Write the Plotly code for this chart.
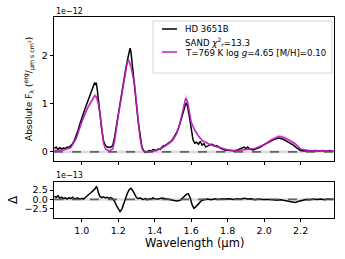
import plotly.graph_objects as go

# ---- data (flux in units of 1e-12, residual in units of 1e-13) ----
data_wl = [0.85,0.86,0.87,0.88,0.89,0.90,0.91,0.92,0.93,0.94,0.95,0.96,0.97,0.98,0.99,1.00,1.01,1.02,1.03,1.04,1.05,1.06,1.065,1.07,1.075,1.08,1.085,1.09,1.10,1.105,1.11,1.12,1.13,1.14,1.15,1.16,1.17,1.18,1.19,1.20,1.21,1.22,1.23,1.24,1.25,1.26,1.265,1.27,1.28,1.29,1.30,1.31,1.32,1.33,1.34,1.35,1.36,1.37,1.38,1.39,1.40,1.41,1.42,1.43,1.44,1.45,1.46,1.47,1.48,1.49,1.50,1.51,1.52,1.53,1.54,1.55,1.56,1.57,1.575,1.58,1.59,1.60,1.61,1.62,1.63,1.64,1.65,1.66,1.67,1.68,1.69,1.70,1.71,1.72,1.73,1.74,1.75,1.76,1.77,1.78,1.79,1.80,1.82,1.84,1.86,1.88,1.89,1.90,1.91,1.92,1.94,1.96,1.98,2.00,2.02,2.04,2.06,2.08,2.10,2.12,2.14,2.16,2.18,2.20,2.22,2.24,2.26,2.28,2.30,2.32,2.34,2.36,2.38]
data_flux = [0.07,0.10,0.05,0.09,0.06,0.08,0.07,0.10,0.09,0.13,0.17,0.24,0.33,0.45,0.58,0.72,0.81,0.92,1.02,1.12,1.22,1.30,1.38,1.43,1.41,1.44,1.30,1.12,0.86,0.65,0.46,0.22,0.13,0.10,0.09,0.10,0.13,0.30,0.55,0.79,1.03,1.27,1.48,1.70,1.90,2.10,2.16,2.08,1.75,1.35,0.98,0.62,0.31,0.10,0.02,-0.01,0.00,0.03,0.01,0.05,0.04,0.03,0.06,0.05,0.10,0.13,0.14,0.17,0.20,0.22,0.27,0.33,0.40,0.48,0.62,0.78,0.92,1.00,1.01,0.95,0.74,0.45,0.25,0.18,0.20,0.16,0.22,0.14,0.17,0.10,0.12,0.13,0.16,0.15,0.12,0.13,0.10,0.08,0.06,0.05,0.03,0.04,0.03,0.02,0.05,0.08,0.10,0.07,0.10,0.06,0.04,0.07,0.10,0.15,0.19,0.24,0.27,0.29,0.27,0.23,0.19,0.14,0.08,0.03,0.02,0.03,0.02,0.03,0.02,0.03,0.02,0.03,0.02]

model_wl = [0.85,0.90,0.94,0.97,1.00,1.03,1.05,1.07,1.08,1.09,1.10,1.11,1.12,1.13,1.15,1.17,1.18,1.20,1.22,1.24,1.25,1.255,1.26,1.27,1.28,1.29,1.30,1.31,1.32,1.33,1.34,1.36,1.40,1.44,1.48,1.50,1.52,1.54,1.56,1.57,1.58,1.59,1.60,1.62,1.64,1.66,1.70,1.73,1.77,1.81,1.85,1.90,1.95,2.00,2.04,2.08,2.10,2.13,2.17,2.20,2.24,2.30,2.38]
model_flux = [0.03,0.04,0.09,0.28,0.62,0.90,1.03,1.17,1.15,1.02,0.80,0.45,0.18,0.06,0.02,0.06,0.22,0.75,1.24,1.64,1.88,1.91,1.88,1.78,1.60,1.40,1.02,0.62,0.28,0.08,0.01,0.00,0.02,0.08,0.18,0.25,0.38,0.62,0.95,1.12,1.05,0.82,0.62,0.45,0.33,0.24,0.16,0.12,0.07,0.03,0.03,0.05,0.07,0.15,0.25,0.32,0.31,0.26,0.17,0.06,0.03,0.02,0.02]
model_spread = [0.02,0.02,0.02,0.03,0.04,0.05,0.05,0.06,0.06,0.05,0.05,0.04,0.03,0.02,0.02,0.02,0.03,0.04,0.05,0.06,0.07,0.07,0.07,0.06,0.06,0.05,0.05,0.04,0.03,0.02,0.02,0.02,0.02,0.02,0.03,0.03,0.04,0.05,0.07,0.09,0.08,0.06,0.05,0.04,0.03,0.03,0.02,0.02,0.02,0.02,0.02,0.02,0.02,0.03,0.04,0.04,0.04,0.04,0.03,0.02,0.02,0.02,0.02]

resid_wl = [0.85,0.86,0.87,0.88,0.89,0.90,0.91,0.92,0.93,0.94,0.95,0.96,0.97,0.98,0.99,1.00,1.01,1.02,1.03,1.04,1.05,1.06,1.07,1.08,1.085,1.09,1.10,1.11,1.12,1.13,1.14,1.15,1.16,1.17,1.18,1.19,1.20,1.21,1.22,1.23,1.24,1.25,1.26,1.27,1.28,1.29,1.30,1.31,1.32,1.33,1.34,1.35,1.36,1.37,1.38,1.39,1.40,1.42,1.44,1.46,1.48,1.50,1.52,1.54,1.56,1.575,1.585,1.595,1.605,1.615,1.625,1.635,1.645,1.655,1.67,1.69,1.71,1.73,1.75,1.77,1.79,1.81,1.83,1.85,1.87,1.89,1.91,1.93,1.95,1.97,1.99,2.01,2.03,2.05,2.07,2.09,2.11,2.13,2.15,2.17,2.19,2.21,2.23,2.25,2.27,2.29,2.31,2.33,2.35,2.37,2.38]
resid_val = [0.9,0.5,1.0,0.3,0.6,0.2,0.4,0.1,0.5,0.2,0.6,0.1,0.3,0.4,0.0,0.3,0.1,0.6,1.0,1.4,1.8,2.2,2.7,3.4,3.1,2.0,0.8,0.5,0.7,0.4,0.6,0.3,0.5,0.2,-0.5,-1.6,-2.6,-3.3,-2.6,-1.0,0.4,1.6,2.6,3.0,2.4,1.4,0.5,0.2,0.4,0.1,0.0,0.3,-0.1,0.2,0.1,0.4,0.2,0.1,0.4,0.2,0.0,-0.1,-0.4,-0.2,0.6,1.4,1.5,0.4,-1.4,-2.4,-2.0,-1.5,-0.8,-0.4,-0.1,0.1,-0.1,0.2,0.0,0.2,0.1,0.2,0.0,0.2,0.1,0.3,0.1,0.2,-0.1,0.1,0.0,0.1,0.0,-0.1,-0.2,-0.1,-0.3,-0.6,-0.8,-0.8,-0.5,-0.2,0.0,-0.1,0.1,0.0,0.1,-0.1,0.1,0.0,0.1]

x_ticks = [1.0, 1.2, 1.4, 1.6, 1.8, 2.0, 2.2]
flux_ticks = [0, 1, 2]
resid_ticks = [-2.5, 0.0, 2.5]

MAG = "#bf1fbf"
FONT = "DejaVu Sans"

fig = go.Figure()

model_hi = [m + s for m, s in zip(model_flux, model_spread)]
model_lo = [m - s for m, s in zip(model_flux, model_spread)]

fig.add_trace(go.Scatter(x=model_wl + model_wl[::-1], y=model_hi + model_lo[::-1],
                         fill="toself", fillcolor="rgba(225,120,225,0.45)",
                         line=dict(width=0), hoverinfo="skip", showlegend=False,
                         xaxis="x", yaxis="y"))
fig.add_trace(go.Scatter(x=data_wl, y=data_flux, mode="lines",
                         line=dict(color="black", width=1.5),
                         name="HD 3651B", showlegend=False, xaxis="x", yaxis="y"))
fig.add_trace(go.Scatter(x=model_wl, y=model_flux, mode="lines",
                         line=dict(color=MAG, width=1.6), opacity=0.9,
                         name="SAND", showlegend=False, xaxis="x", yaxis="y"))
fig.add_trace(go.Scatter(x=resid_wl, y=resid_val, mode="lines",
                         line=dict(color="black", width=1.5),
                         showlegend=False, xaxis="x2", yaxis="y2"))

xr = [0.848, 2.383]
dom_x = [54/345, 334/345]
axis_common = dict(showline=True, linecolor="black", linewidth=0.8, mirror=True,
                   ticks="outside", ticklen=3.5, tickwidth=0.8, tickcolor="black",
                   showgrid=False, zeroline=False, automargin=False,
                   tickfont=dict(family=FONT, size=9.5, color="black"))

fig.update_layout(
    width=345, height=259,
    margin=dict(l=0, r=0, t=0, b=0, autoexpand=False),
    paper_bgcolor="white", plot_bgcolor="white",
    xaxis=dict(domain=dom_x, range=xr, tickvals=x_ticks, showticklabels=False,
               anchor="y", **axis_common),
    yaxis=dict(domain=[1-161/259, 1-17/259], range=[-0.19, 2.81],
               tickvals=flux_ticks, ticktext=[str(v) for v in flux_ticks],
               anchor="x", **axis_common),
    xaxis2=dict(domain=dom_x, range=xr, tickvals=x_ticks,
                ticktext=[f"{v:.1f}" for v in x_ticks], anchor="y2", **axis_common),
    yaxis2=dict(domain=[1-218/259, 1-182/259], range=[-5.0, 4.7],
                tickvals=resid_ticks,
                ticktext=[f"{v:.1f}".replace("-", "\u2212") for v in resid_ticks],
                anchor="x2", **axis_common),
)

for yref in ("y", "y2"):
    half = 0.03 if yref == "y" else 0.35
    fig.add_shape(type="rect", xref="paper", yref=yref, x0=dom_x[0], x1=dom_x[1],
                  y0=-half, y1=half,
                  fillcolor="rgba(180,180,180,0.45)", line=dict(width=0), layer="below")
    fig.add_shape(type="line", xref="paper", yref=yref, x0=dom_x[0], x1=dom_x[1],
                  y0=0, y1=0, line=dict(color="rgba(80,80,80,0.85)", width=1.8, dash="dash"))

ann = []
ann.append(dict(x=54/345, y=1-11/259, xref="paper", yref="paper", text="1e\u221212",
                showarrow=False, xanchor="left", yanchor="middle",
                font=dict(family=FONT, size=8, color="black")))
ann.append(dict(x=54/345, y=1-175.5/259, xref="paper", yref="paper", text="1e\u221213",
                showarrow=False, xanchor="left", yanchor="middle",
                font=dict(family=FONT, size=8, color="black")))
ann.append(dict(x=29/345, y=1-89/259, xref="paper", yref="paper",
                text="Absolute F<sub>λ</sub> (<sup>erg</sup>/<sub>µm s cm<sup>2</sup></sub>)",
                textangle=-90, showarrow=False, xanchor="center", yanchor="middle",
                font=dict(family=FONT, size=9, color="black")))
ann.append(dict(x=13/345, y=1-200/259, xref="paper", yref="paper", text="Δ",
                textangle=-90, showarrow=False, xanchor="center", yanchor="middle",
                font=dict(family=FONT, size=12, color="black")))
ann.append(dict(x=194/345, y=1-243/259, xref="paper", yref="paper", text="Wavelength (µm)",
                showarrow=False, xanchor="center", yanchor="middle",
                font=dict(family=FONT, size=11.5, color="black")))

fig.add_shape(type="rect", xref="paper", yref="paper", x0=153/345, x1=332/345,
              y0=1-73/259, y1=1-21/259, line=dict(color="#cccccc", width=0.8),
              fillcolor="rgba(255,255,255,0.8)")
fig.add_shape(type="line", xref="paper", yref="paper", x0=162/345, x1=177/345,
              y0=1-29/259, y1=1-29/259, line=dict(color="black", width=1.5))
fig.add_shape(type="line", xref="paper", yref="paper", x0=162/345, x1=177/345,
              y0=1-52/259, y1=1-52/259, line=dict(color=MAG, width=1.5))
leg_font = dict(family=FONT, size=8.6, color="black")
ann.append(dict(x=183/345, y=1-29/259, xref="paper", yref="paper", text="HD 3651B",
                showarrow=False, xanchor="left", yanchor="middle", font=leg_font))
ann.append(dict(x=183/345, y=1-42/259, xref="paper", yref="paper",
                text="SAND <i>χ</i><sup>2</sup><sub><i>r</i></sub>=13.3",
                showarrow=False, xanchor="left", yanchor="middle", font=leg_font))
ann.append(dict(x=183/345, y=1-53/259, xref="paper", yref="paper",
                text="T=769 K log <i>g</i>=4.65 [M/H]=0.10",
                showarrow=False, xanchor="left", yanchor="middle", font=leg_font))
fig.update_layout(annotations=ann)

fig.write_html("out.html", config={"displayModeBar": False},
               post_script="document.body.style.margin='0px';document.body.style.padding='0px';")
